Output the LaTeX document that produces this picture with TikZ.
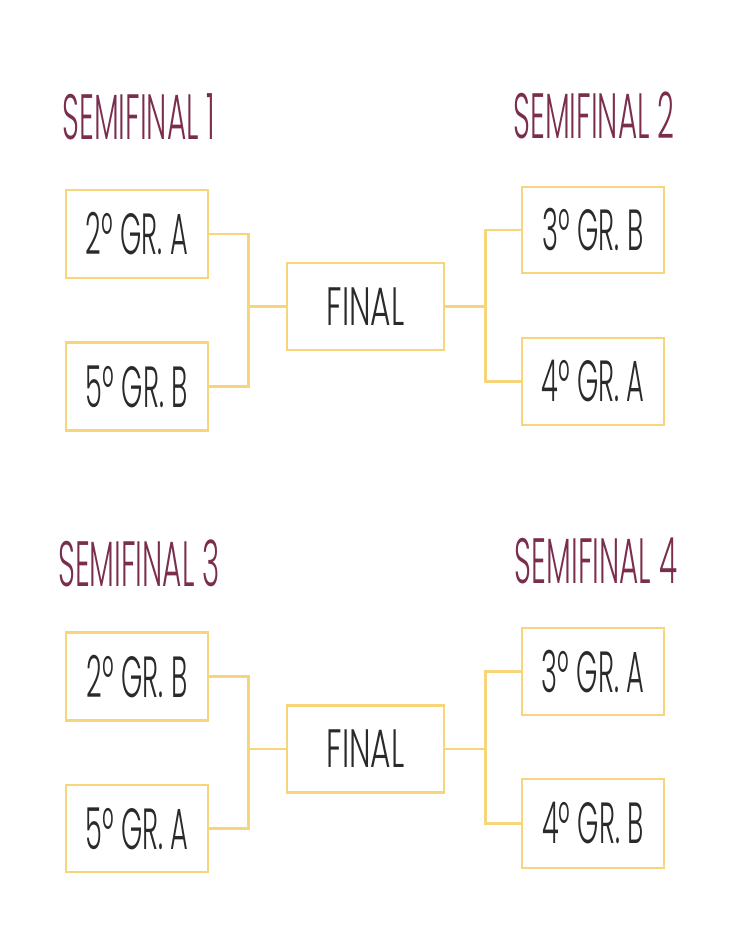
\documentclass[tikz,border=0pt]{standalone}
\usepackage{fontspec}
\setmainfont{Poppins}
\newfontfamily\boxfont[FakeStretch=0.47]{Poppins Light}
\newfontfamily\finalfont[FakeStretch=0.58]{Poppins Light}
\newfontfamily\titlefont[FakeStretch=0.46]{Poppins Light}
\definecolor{bracket}{HTML}{F8D57A}
\definecolor{titlecol}{HTML}{7B2D4E}
\definecolor{txt}{HTML}{2A2A2A}
\tikzset{
  team/.style={draw=bracket, line width=2.6pt, fill=white, minimum width=142pt, minimum height=88pt, inner sep=0pt, font=\boxfont\fontsize{58}{60}\selectfont, text=txt},
  finalbox/.style={team, minimum width=157pt, minimum height=87pt, font=\finalfont\fontsize{54}{56}\selectfont},
  title/.style={font=\titlefont\fontsize{64}{66}\selectfont, text=titlecol, inner sep=0pt},
  link/.style={draw=bracket, line width=2.6pt}
}
\begin{document}
\begin{tikzpicture}[x=1pt,y=-1pt]
\fill[white] (0,0) rectangle (733,950);
\useasboundingbox (0,0) rectangle (733,950);
% titles
\node[title] (t1) at (139,117) {SEMIFINAL 1};
\node[title] (t2) at (594,115) {SEMIFINAL 2};
\node[title] (t3) at (139,563) {SEMIFINAL 3};
\node[title] (t4) at (596,561) {SEMIFINAL 4};
% top bracket
\node[team] (b1) at (137,234) {2º GR. A};
\node[team] (b2) at (137,386.5) {5º GR. B};
\node[finalbox] (f1) at (365.5,306.5) {FINAL};
\node[team, minimum height=86pt] (b3) at (593,230) {3º GR. B};
\node[team, minimum height=87pt] (b4) at (593,381.5) {4º GR. A};
\draw[link] (b1.east) -- ++(39,0) coordinate (j1) |- (f1.west);
\draw[link] (b2.east) -- ++(39,0) coordinate (j2) -- (j1);
\draw[link] (f1.east) -- ++(40,0) coordinate (j3);
\draw[link] (j3) |- (b3.west);
\draw[link] (j3) |- (b4.west);
% bottom bracket
\node[team] (b5) at (137,676.5) {2º GR. B};
\node[team, minimum height=87pt] (b6) at (137,828.5) {5º GR. A};
\node[finalbox] (f2) at (365.5,749) {FINAL};
\node[team, minimum height=87pt] (b7) at (593,671.5) {3º GR. A};
\node[team, minimum height=89pt] (b8) at (593,823.5) {4º GR. B};
\draw[link] (b5.east) -- ++(39,0) coordinate (j4) |- (f2.west);
\draw[link] (b6.east) -- ++(39,0) coordinate (j5) -- (j4);
\draw[link] (f2.east) -- ++(40,0) coordinate (j6);
\draw[link] (j6) |- (b7.west);
\draw[link] (j6) |- (b8.west);
\end{tikzpicture}
\end{document}
